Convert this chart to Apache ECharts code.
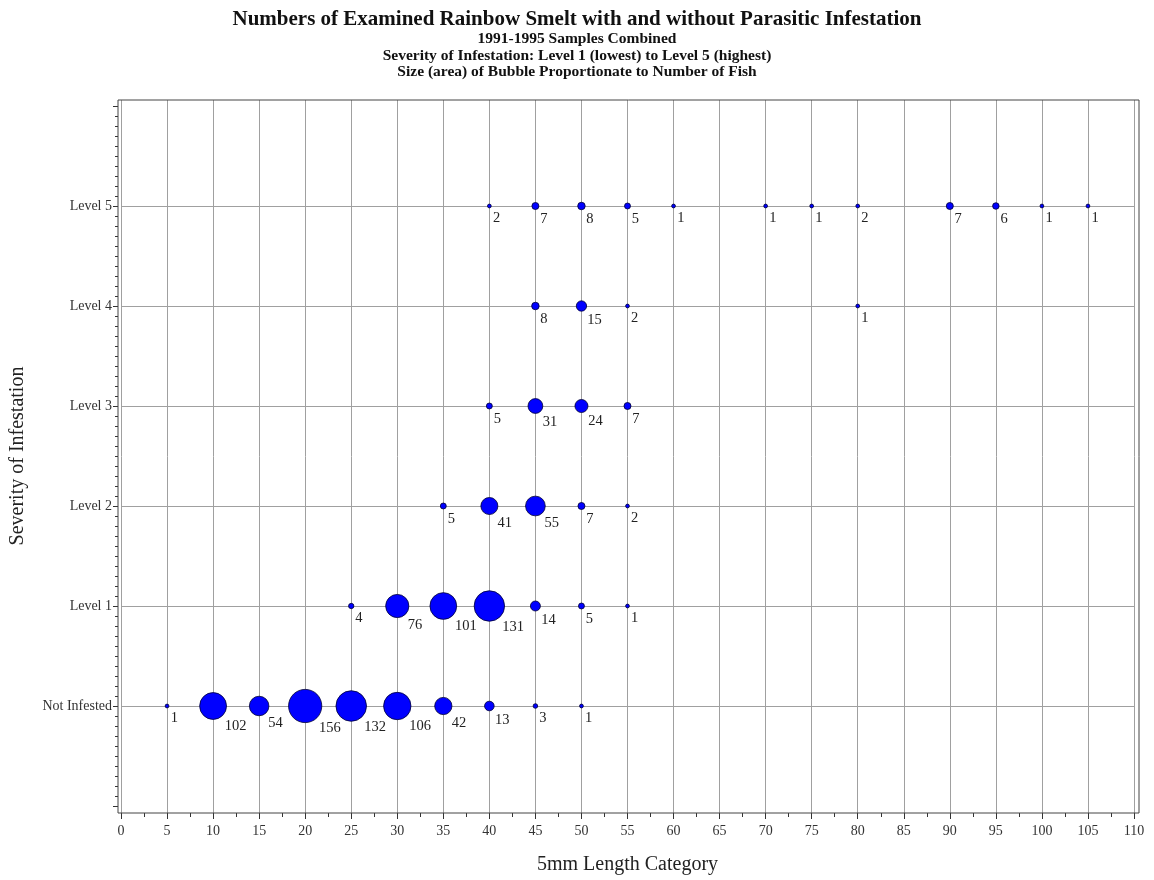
<!DOCTYPE html>
<html>
<head>
<meta charset="utf-8">
<script src="https://cdn.jsdelivr.net/npm/echarts@6/dist/echarts.min.js"></script>
<style>html,body{margin:0;padding:0;background:#fff}#c{width:1154px;height:880px}</style>
</head>
<body>
<div id="c"></div>
<script>
// Severity level names (y = 0..5)
var levelNames = ['Not Infested', 'Level 1', 'Level 2', 'Level 3', 'Level 4', 'Level 5'];

// 5mm length categories and fish counts per severity level
var notInfestedX = [5, 10, 15, 20, 25, 30, 35, 40, 45, 50];
var notInfestedN = [1, 102, 54, 156, 132, 106, 42, 13, 3, 1];
var level1X = [25, 30, 35, 40, 45, 50, 55];
var level1N = [4, 76, 101, 131, 14, 5, 1];
var level2X = [35, 40, 45, 50, 55];
var level2N = [5, 41, 55, 7, 2];
var level3X = [40, 45, 50, 55];
var level3N = [5, 31, 24, 7];
var level4X = [45, 50, 55, 80];
var level4N = [8, 15, 2, 1];
var level5X = [40, 45, 50, 55, 60, 70, 75, 80, 90, 95, 100, 105];
var level5N = [2, 7, 8, 5, 1, 1, 1, 2, 7, 6, 1, 1];

var levelsX = [notInfestedX, level1X, level2X, level3X, level4X, level5X];
var levelsN = [notInfestedN, level1N, level2N, level3N, level4N, level5N];

var data = [];
levelsX.forEach(function (xs, lvl) {
  xs.forEach(function (x, i) { data.push([x, lvl, levelsN[lvl][i]]); });
});

var serif = '"Liberation Serif", "DejaVu Serif", serif';
var chart = echarts.init(document.getElementById('c'), null, {renderer: 'canvas'});
var lineGrey = '#a0a0a0';
var gridColors = ['rgba(0,0,0,0)', lineGrey, lineGrey, lineGrey, lineGrey, lineGrey, lineGrey, 'rgba(0,0,0,0)'];

chart.setOption({
  animation: false,
  backgroundColor: '#fff',
  title: {
    left: 'center',
    top: 4,
    text: 'Numbers of Examined Rainbow Smelt with and without Parasitic Infestation',
    subtext: '1991-1995 Samples Combined\nSeverity of Infestation: Level 1 (lowest) to Level 5 (highest)\nSize (area) of Bubble Proportionate to Number of Fish',
    itemGap: 1,
    textStyle: {fontFamily: serif, fontSize: 21, fontWeight: 'bold', color: '#111'},
    subtextStyle: {fontFamily: serif, fontSize: 15.5, fontWeight: 'bold', color: '#111', lineHeight: 16.5}
  },
  grid: [
    {left: 121, right: 20, top: 100, bottom: 67},
    {left: 121, right: 20, top: 106, bottom: 74}
  ],
  xAxis: [{
    gridIndex: 0,
    type: 'value', min: 0, max: 110, interval: 5,
    name: '5mm Length Category', nameLocation: 'middle', nameGap: 42,
    nameTextStyle: {fontFamily: serif, fontSize: 20, color: '#222'},
    axisLine: {show: false, onZero: false},
    axisTick: {show: true, length: 6, lineStyle: {color: '#333'}},
    minorTick: {show: true, splitNumber: 2, length: 4, lineStyle: {color: '#333'}},
    axisLabel: {fontFamily: serif, fontSize: 14, color: '#333', margin: 11},
    splitLine: {show: true, lineStyle: {color: lineGrey, width: 1}}
  }, {
    gridIndex: 1, show: false,
    type: 'value', min: 0, max: 110
  }],
  yAxis: [{
    gridIndex: 0, show: false, type: 'value', min: 0, max: 1
  }, {
    gridIndex: 1,
    type: 'value', min: -1, max: 6, interval: 1,
    offset: 3,
    name: 'Severity of Infestation', nameLocation: 'middle', nameGap: 90, nameRotate: 90,
    nameTextStyle: {fontFamily: serif, fontSize: 20, color: '#222'},
    axisLine: {show: false, onZero: false},
    axisTick: {show: true, length: 5, lineStyle: {color: '#333'}},
    minorTick: {show: true, splitNumber: 10, length: 3, lineStyle: {color: '#333'}},
    axisLabel: {
      fontFamily: serif, fontSize: 14, color: '#333', margin: 6,
      formatter: function (v) { return levelNames[v] !== undefined ? levelNames[v] : ''; }
    },
    splitLine: {show: true, lineStyle: {color: gridColors, width: 1}}
  }],
  graphic: [{
    type: 'rect', z: 10, silent: true,
    shape: {x: 118, y: 100, width: 1021, height: 713},
    style: {fill: 'none', stroke: '#444', lineWidth: 1}
  }],
  series: [{
    type: 'scatter',
    xAxisIndex: 1, yAxisIndex: 1,
    data: data,
    symbol: 'circle',
    symbolSize: function (v) { return Math.max(3.8, 2.66 * Math.sqrt(v[2])); },
    itemStyle: {color: '#0000ff', borderColor: '#000033', borderWidth: 0.8, opacity: 1},
    label: {
      show: true,
      position: ['85%', '85%'],
      offset: [2, 3],
      align: 'left', verticalAlign: 'top',
      fontFamily: serif, fontSize: 14.5, color: '#222',
      formatter: function (p) { return p.value[2]; }
    },
    emphasis: {disabled: true},
    z: 5
  }]
});
</script>
</body>
</html>
